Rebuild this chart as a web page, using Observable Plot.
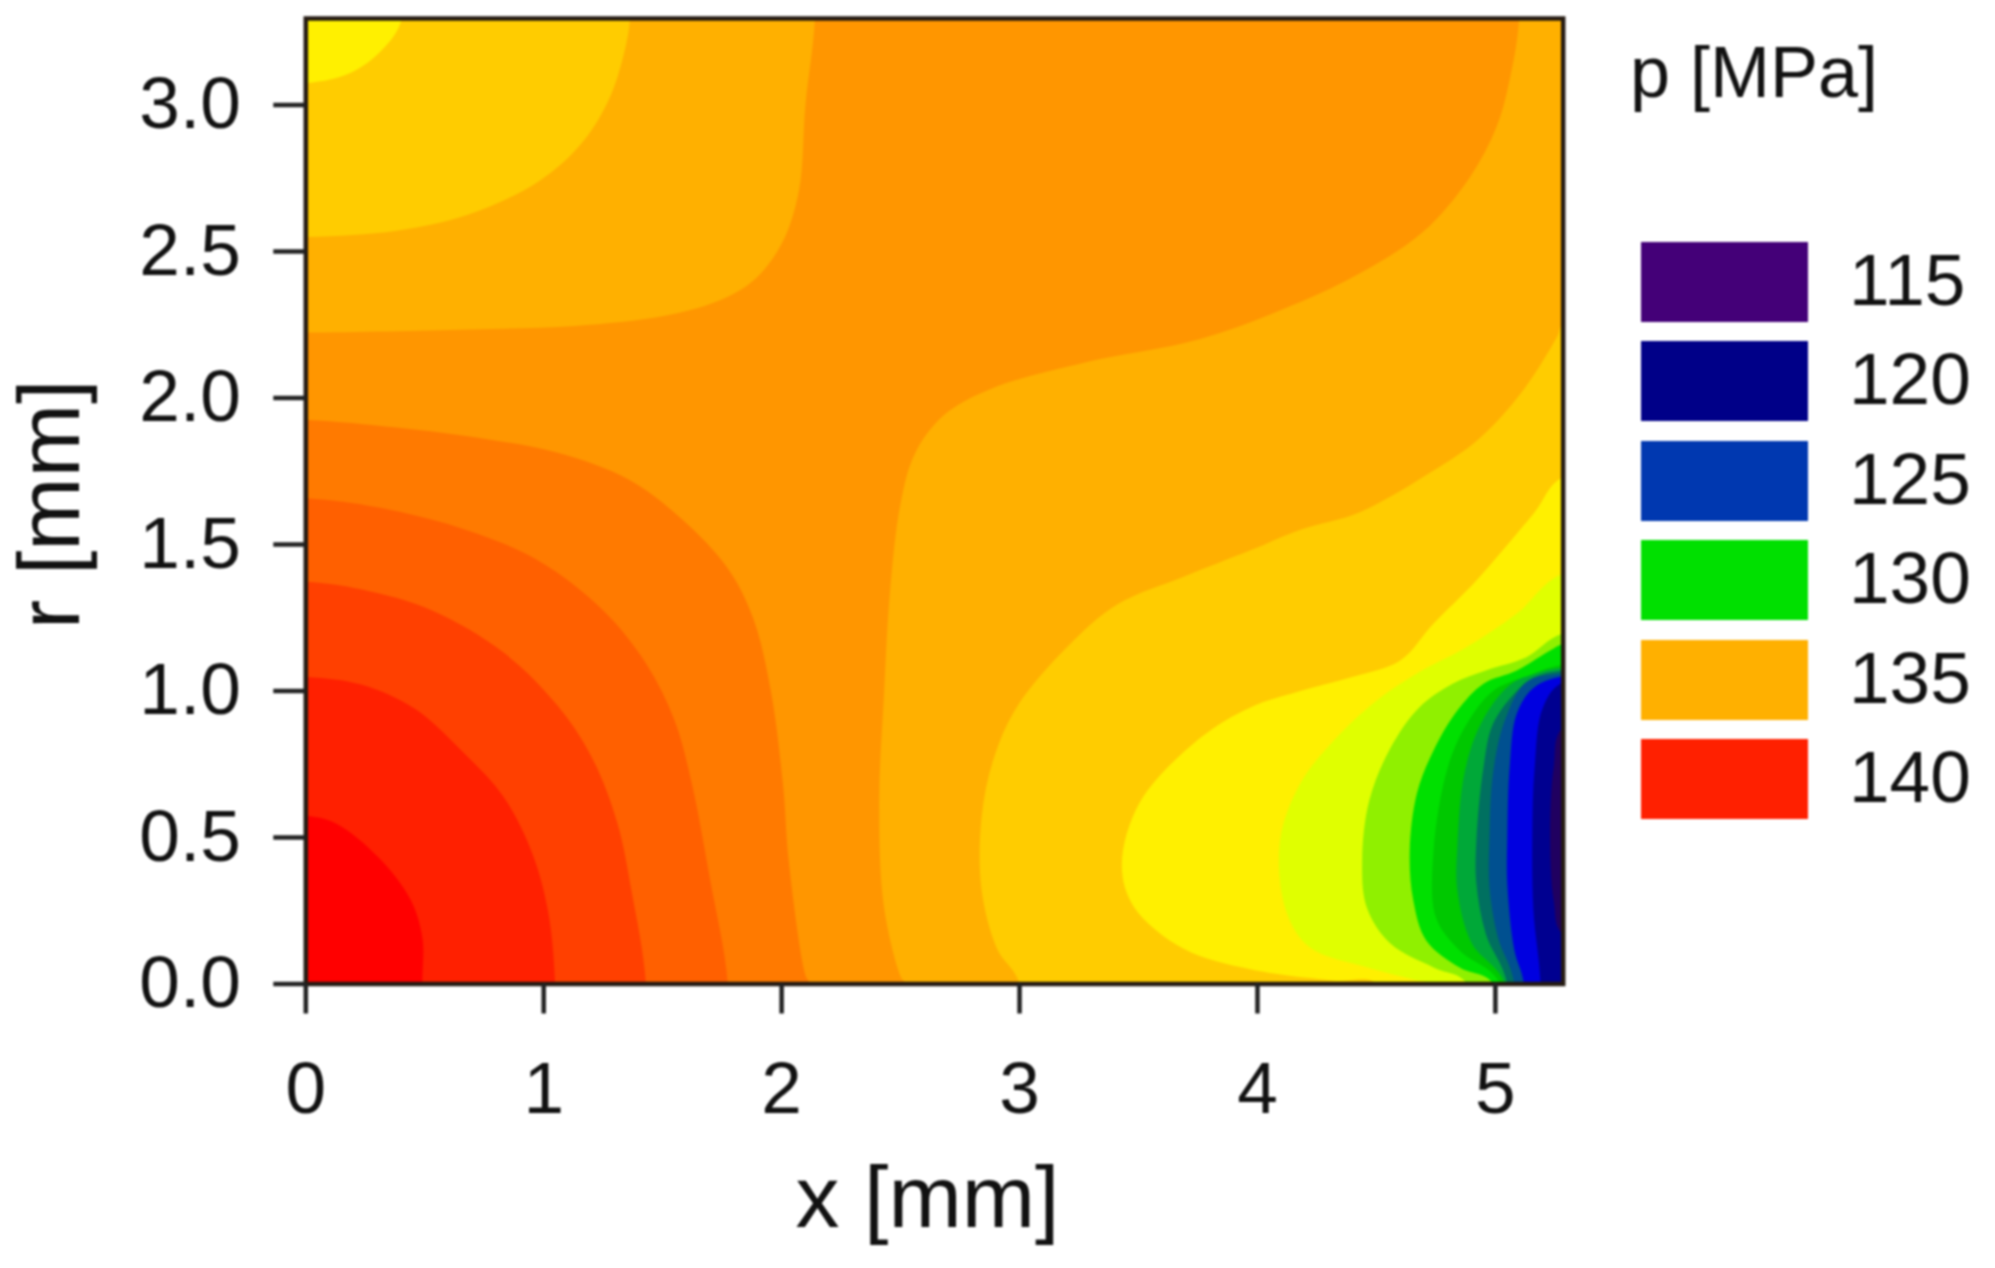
<!DOCTYPE html>
<html>
<head>
<meta charset="utf-8">
<script src="https://cdn.jsdelivr.net/npm/d3@7"></script>
<script src="https://cdn.jsdelivr.net/npm/@observablehq/plot@0.6"></script>
<style>
  html, body { margin: 0; padding: 0; background: #fff; }
  #page { position: relative; width: 1995px; height: 1268px; overflow: hidden; font-family: "Liberation Sans", Arial, sans-serif; color: #111; }
  #chart svg, #legend { filter: blur(0.9px); }
  #legend { position: absolute; left: 0; top: 0; width: 1995px; height: 1268px; pointer-events: none; }
  .swatch { position: absolute; left: 1641px; width: 167px; height: 80px; }
  .lab { position: absolute; left: 1849px; font-size: 73px; line-height: 80px; letter-spacing: 0; }
  .ttl { position: absolute; left: 1630px; top: 32px; font-size: 72px; line-height: 80px; }
</style>
</head>
<body>
<div id="page"><div id="chart"></div><div id="legend"></div></div>
<script>
// Pressure levels (MPa) and the band colours of the contour plot
const levels = [118,121,124,125,126,127,128,129,130,131,132,133,134,135,136,137,138,139,140,141];
const levelColors = ["#200060","#000090","#0000e0","#0038b0","#005090","#007060","#00a838","#00c800","#00e000","#90f000","#e0ff00","#fff000","#ffcc00","#ffb000","#ff9600","#ff7a00","#ff6000","#ff4000","#ff2000","#ff0000"];

// Legend
const legendValues = [115,120,125,130,135,140];
const legendColors = ["#440078","#000088","#0038b0","#00e000","#ffb000","#ff2000"];
const xTicks = [0,1,2,3,4,5];
const rTicks = [0,0.5,1,1.5,2,2.5,3];
const xLabel = "x [mm]";
const rLabel = "r [mm]";

// Iso-pressure boundaries, as [x mm, r mm]
// Hot core, lower left
const iso141 = [[0,.574],[.127,.548],[.307,.431],[.44,.288],[.49,.158],[.49,0]];
const iso140 = [[0,1.048],[.232,1.022],[.457,.94],[.65,.80],[.83,.64],[.95,.45],[1.018,.249],[1.048,0]];
const iso139 = [[0,1.373],[.232,1.347],[.531,1.275],[.83,1.132],[1.057,.951],[1.205,.769],[1.31,.548],[1.37,.314],[1.43,0]];
const iso138 = [[0,1.658],[.307,1.626],[.681,1.548],[.98,1.444],[1.25,1.275],[1.43,1.094],[1.55,.899],[1.624,.678],[1.70,.353],[1.774,0]];
const iso137 = [[0,1.925],[.382,1.899],[.756,1.86],[1.055,1.814],[1.355,1.723],[1.58,1.587],[1.774,1.418],[1.88,1.249],[1.954,1.003],[2.006,.678],[2.03,.418],[2.10,.03],[2.118,0]];
// Upper left
const iso135a = [[0,2.223],[.681,2.234],[1.13,2.246],[1.504,2.28],[1.73,2.33],[1.88,2.40],[2.0,2.526],[2.073,2.709],[2.10,3.0],[2.14,3.295]];
const iso134a = [[0,2.549],[.382,2.571],[.681,2.625],[.98,2.74],[1.16,2.87],[1.28,3.03],[1.347,3.21],[1.362,3.295]];
const iso133a = [[0,3.074],[.187,3.109],[.322,3.189],[.404,3.295]];
// Lower right
const iso135b = [[5.10,3.295],[5.066,3.11],[5.007,2.93],[4.89,2.75],[4.695,2.566],[4.44,2.43],[4.146,2.316],[3.756,2.20],[3.27,2.12],[2.876,2.03],[2.68,1.94],[2.56,1.81],[2.50,1.64],[2.456,1.343],[2.43,.983],[2.41,.62],[2.43,.264],[2.50,.026],[2.52,0]];
const iso134b = [[5.285,2.25],[5.26,2.21],[5.12,2.03],[4.93,1.86],[4.73,1.747],[4.43,1.61],[4.18,1.55],[3.97,1.48],[3.69,1.39],[3.41,1.295],[3.2,1.15],[2.99,.947],[2.89,.766],[2.84,.565],[2.84,.324],[2.905,.121],[3.0,0]];
const iso133b = [[5.285,1.73],[5.16,1.605],[4.92,1.377],[4.74,1.23],[4.6,1.104],[4.39,1.046],[4.18,1.0],[3.97,.944],[3.76,.84],[3.507,.622],[3.43,.407],[3.48,.264],[3.69,.12],[3.97,.05],[4.32,.012],[4.5,0]];
const iso132 = [[5.285,1.40],[5.09,1.264],[4.88,1.15],[4.67,1.06],[4.50,.967],[4.32,.83],[4.18,.684],[4.095,.49],[4.12,.25],[4.22,.125],[4.46,.057],[4.67,.012],[4.72,0]];
const iso131 = [[5.285,1.196],[5.13,1.115],[4.96,1.07],[4.82,1.025],[4.68,.944],[4.56,.807],[4.47,.626],[4.44,.42],[4.46,.26],[4.56,.137],[4.74,.056],[4.88,0]];
const iso130 = [[5.285,1.16],[5.23,1.138],[5.09,1.07],[4.95,1.025],[4.84,.933],[4.74,.797],[4.67,.65],[4.64,.455],[4.655,.285],[4.71,.148],[4.85,.056],[4.99,0]];
const iso129 = [[5.285,1.09],[5.13,1.05],[4.99,1.0],[4.88,.888],[4.80,.74],[4.74,.455],[4.75,.227],[4.85,.114],[5.02,0]];
const iso128 = [[5.285,1.08],[5.17,1.06],[5.06,1.02],[4.94,.89],[4.87,.72],[4.84,.47],[4.84,.32],[4.90,.14],[5.04,0]];
const iso127 = [[5.285,1.07],[5.16,1.046],[5.09,1.0],[4.99,.888],[4.95,.74],[4.92,.49],[4.92,.343],[4.96,.17],[5.05,0]];
const iso126 = [[5.285,1.06],[5.13,1.03],[5.04,.9],[4.99,.72],[4.975,.5],[4.975,.33],[5.01,.16],[5.08,0]];
const iso124 = [[5.285,1.05],[5.16,1.01],[5.09,.923],[5.06,.74],[5.05,.5],[5.05,.343],[5.08,.114],[5.12,0]];
const iso121 = [[5.285,1.03],[5.2,.944],[5.165,.74],[5.155,.5],[5.16,.25],[5.19,0]];
const iso118 = [[5.285,.875],[5.245,.74],[5.23,.513],[5.245,.285],[5.285,.17]];

// Axis extents
const xMax = 5.285, rMax = 3.295, off = 0.5;

// Each region runs along its boundary then closes outside the frame
const closeLowerLeft  = (b) => [[b.at(-1)[0], -off], [-off, -off], [-off, b[0][1]]];
const closeUpperLeft  = (b) => [[b.at(-1)[0], rMax + off], [-off, rMax + off], [-off, b[0][1]]];
const closeRightTop   = (b) => [[b.at(-1)[0], -off], [xMax + off, -off], [xMax + off, rMax + off], [b[0][0], rMax + off]];
const closeRight      = (b) => [[b.at(-1)[0], -off], [xMax + off, -off], [xMax + off, b[0][1]]];
const closeRightEdge  = (b) => [[xMax + off, b.at(-1)[1]], [xMax + off, b[0][1]]];

const regions = [
  ["a137", 137, iso137, closeLowerLeft],
  ["a138", 138, iso138, closeLowerLeft],
  ["a139", 139, iso139, closeLowerLeft],
  ["a140", 140, iso140, closeLowerLeft],
  ["a141", 141, iso141, closeLowerLeft],
  ["b135", 135, iso135a, closeUpperLeft],
  ["b134", 134, iso134a, closeUpperLeft],
  ["b133", 133, iso133a, closeUpperLeft],
  ["c135", 135, iso135b, closeRightTop],
  ["c134", 134, iso134b, closeRight],
  ["c133", 133, iso133b, closeRight],
  ["c132", 132, iso132, closeRight],
  ["c131", 131, iso131, closeRight],
  ["c130", 130, iso130, closeRight],
  ["c129", 129, iso129, closeRight],
  ["c128", 128, iso128, closeRight],
  ["c127", 127, iso127, closeRight],
  ["c126", 126, iso126, closeRight],
  ["c124", 124, iso124, closeRight],
  ["c121", 121, iso121, closeRight],
  ["c118", 118, iso118, closeRightEdge]
];

const table = regions.flatMap(([id, level, b, close]) =>
  b.concat(close(b)).map(([x, r]) => ({id, level, x, r})));

const fig = Plot.plot({
  width: 1995,
  height: 1268,
  marginLeft: 305.3,
  marginRight: 432.3,
  marginTop: 18,
  marginBottom: 284.5,
  style: {fontFamily: '"Liberation Sans", Arial, sans-serif', color: "#111", background: "transparent"},
  x: {domain: [0, xMax]},
  y: {domain: [0, rMax]},
  color: {type: "ordinal", domain: levels, range: levelColors},
  marks: [
    Plot.frame({fill: "#ff9600", stroke: "none"}),
    Plot.line(table, {x: "x", y: "r", z: "id", fill: "level", stroke: null, curve: "catmull-rom-closed", clip: "frame"}),
    Plot.frame({stroke: "#241a12", strokeWidth: 4.5}),
    Plot.axisX(xTicks, {tickSize: 30, tickPadding: 47, strokeWidth: 4.5, stroke: "#222", fontSize: 73, tickFormat: d3.format("d"), label: null}),
    Plot.axisY(rTicks, {tickSize: 32, tickPadding: 33, strokeWidth: 4.5, stroke: "#222", fontSize: 73, tickFormat: d3.format(".1f"), label: null}),
    Plot.text([xLabel], {text: (d) => d, frameAnchor: "bottom", lineAnchor: "middle", dx: -7, dy: 215, fontSize: 88}),
    Plot.text([rLabel], {text: (d) => d, frameAnchor: "left", textAnchor: "middle", lineAnchor: "middle", rotate: -90, dx: -255, dy: 3, fontSize: 88})
  ]
});
document.getElementById("chart").appendChild(fig);

// Colour legend beside the plot
const lg = document.getElementById("legend");
const ttl = document.createElement("div");
ttl.className = "ttl"; ttl.textContent = "p [MPa]"; lg.appendChild(ttl);
legendValues.forEach((v, i) => {
  const top = 242 + i * 99.4;
  const s = document.createElement("div");
  s.className = "swatch"; s.style.top = top + "px"; s.style.background = legendColors[i]; lg.appendChild(s);
  const t = document.createElement("div");
  t.className = "lab"; t.style.top = (top - 2) + "px"; t.textContent = v; lg.appendChild(t);
});
</script>
</body>
</html>
